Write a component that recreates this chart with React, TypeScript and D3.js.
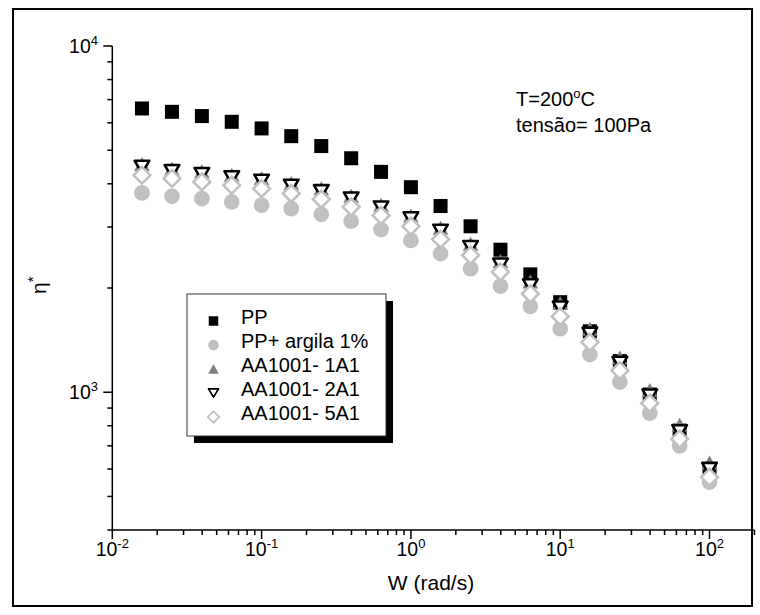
import React from 'react';
import * as d3 from 'd3';

// ---- data ----
const freq = [0.0158, 0.0251, 0.0398, 0.0631, 0.1, 0.158, 0.251, 0.398, 0.631, 1, 1.58, 2.51, 3.98, 6.31, 10, 15.8, 25.1, 39.8, 63.1, 100];
const ppValues = [6600, 6455, 6275, 6040, 5780, 5490, 5140, 4740, 4330, 3910, 3450, 3015, 2580, 2190, 1820, 1500, 1230, 985, 775, 600];
const argilaValues = [3765, 3680, 3625, 3545, 3470, 3390, 3265, 3120, 2950, 2745, 2515, 2275, 2025, 1770, 1525, 1285, 1070, 870, 700, 550];
const aa1A1Values = [4560, 4430, 4345, 4250, 4155, 4020, 3880, 3695, 3480, 3240, 2985, 2685, 2395, 2090, 1810, 1525, 1260, 1015, 805, 627];
const aa2A1Values = [4475, 4350, 4265, 4170, 4080, 3945, 3805, 3625, 3415, 3175, 2925, 2625, 2335, 2035, 1755, 1475, 1215, 978, 771, 600];
const aa5A1Values = [4235, 4145, 4050, 3960, 3875, 3750, 3610, 3430, 3240, 3015, 2765, 2485, 2225, 1925, 1655, 1395, 1155, 930, 733, 568];

const seriesNames = ['PP', 'PP+ argila 1%', 'AA1001- 1A1', 'AA1001- 2A1', 'AA1001- 5A1'];
const xMajorExps = [-2, -1, 0, 1, 2];
const yMajorExps = [3, 4];
const annotationLines = ['T=200', 'tensão= 100Pa'];

type Kind = 'square' | 'circle' | 'triUp' | 'triDown' | 'diamond';

const series: { name: string; values: number[]; kind: Kind }[] = [
  { name: seriesNames[0], values: ppValues, kind: 'square' },
  { name: seriesNames[1], values: argilaValues, kind: 'circle' },
  { name: seriesNames[2], values: aa1A1Values, kind: 'triUp' },
  { name: seriesNames[3], values: aa2A1Values, kind: 'triDown' },
  { name: seriesNames[4], values: aa5A1Values, kind: 'diamond' },
];

const FONT = 'Liberation Sans, Arial, Helvetica, sans-serif';

function Marker({ kind, cx, cy, s }: { kind: Kind; cx: number; cy: number; s: number }) {
  switch (kind) {
    case 'square':
      return <rect x={cx - s / 2} y={cy - s / 2} width={s} height={s} fill="#000" />;
    case 'circle':
      return <circle cx={cx} cy={cy} r={s * 0.56} fill="#c0c0c0" />;
    case 'triUp': {
      const w = s * 1.12, h = s;
      const p = `M${cx},${cy - h / 2}L${cx + w / 2},${cy + h / 2}L${cx - w / 2},${cy + h / 2}Z`;
      return <path d={p} fill="#808080" />;
    }
    case 'triDown': {
      const w = s * 1.05, h = s * 0.88;
      const p = `M${cx - w / 2},${cy - h / 2}L${cx + w / 2},${cy - h / 2}L${cx},${cy + h / 2}Z`;
      return <path d={p} fill="#fff" stroke="#000" strokeWidth={s * 0.18} strokeLinejoin="round" />;
    }
    case 'diamond': {
      const r = s * 0.6;
      const p = `M${cx},${cy - r}L${cx + r},${cy}L${cx},${cy + r}L${cx - r},${cy}Z`;
      return <path d={p} fill="#fff" stroke="#c0c0c0" strokeWidth={s * 0.18} />;
    }
  }
  return null;
}

export default function App() {
  const W = 760, H = 615;
  const x0 = 112.3, decX = 149.3;
  const x = d3.scaleLog().domain([0.01, 200]).range([x0, x0 + Math.log10(20000) * decX]);
  const y = d3.scaleLog().domain([400, 10000]).range([530, 46]);
  const axisY = 530;

  const xMinor: number[] = [];
  for (let e = -2; e <= 2; e++) for (let k = 2; k <= 9; k++) {
    const v = k * Math.pow(10, e);
    if (v <= 200) xMinor.push(v);
  }
  const yMinor: number[] = [];
  for (let e = 2; e <= 3; e++) for (let k = 2; k <= 9; k++) {
    const v = k * Math.pow(10, e);
    if (v >= 400 && v < 10000) yMinor.push(v);
  }

  const legend = { x: 187, y: 294, w: 199, h: 142 };
  const legendRows = [317, 341, 365, 389, 413];

  return (
    <svg width={W} height={H} style={{ position: 'absolute', left: 0, top: 0, background: '#fff' }} fontFamily={FONT}>
      <rect x={0} y={0} width={W} height={H} fill="#fff" />
      {/* page frame */}
      <rect x={13} y={9} width={739} height={597} fill="none" stroke="#000" strokeWidth={2} />

      {/* data */}
      {series.map((s) => (
        <g key={s.name}>
          {s.values.map((v, i) => (
            <Marker key={i} kind={s.kind} cx={x(freq[i])} cy={y(v)} s={14} />
          ))}
        </g>
      ))}

      {/* axes */}
      <g stroke="#000" strokeWidth={1.5} fill="none">
        <line x1={x0} y1={axisY} x2={x.range()[1]} y2={axisY} />
        <line x1={x0} y1={46} x2={x0} y2={axisY} />
        {xMajorExps.map((e) => (
          <line key={'xM' + e} x1={x(Math.pow(10, e))} x2={x(Math.pow(10, e))} y1={axisY} y2={axisY + 9} />
        ))}
        {xMinor.map((v) => (
          <line key={'xm' + v} x1={x(v)} x2={x(v)} y1={axisY} y2={axisY + 5} />
        ))}
        {yMajorExps.map((e) => (
          <line key={'yM' + e} x1={x0 - 9} x2={x0} y1={y(Math.pow(10, e))} y2={y(Math.pow(10, e))} />
        ))}
        {yMinor.map((v) => (
          <line key={'ym' + v} x1={x0 - 5} x2={x0} y1={y(v)} y2={y(v)} />
        ))}
      </g>

      {/* tick labels */}
      {xMajorExps.map((e) => (
        <text key={'xl' + e} x={x(Math.pow(10, e))} y={556} textAnchor="middle" fontSize={19.5} fill="#000">
          10<tspan dy={-8} fontSize={13}>{String(e)}</tspan>
        </text>
      ))}
      {yMajorExps.map((e) => (
        <text key={'yl' + e} x={98} y={y(Math.pow(10, e)) + 7} textAnchor="end" fontSize={19.5} fill="#000">
          10<tspan dy={-8} fontSize={13}>{String(e)}</tspan>
        </text>
      ))}

      {/* axis titles */}
      <text x={431} y={590} textAnchor="middle" fontSize={21} fill="#000">W (rad/s)</text>
      <text transform="translate(46,294) rotate(-90)" fontSize={21} fill="#000">
        η<tspan dy={-8} fontSize={15}>*</tspan>
      </text>

      {/* annotation */}
      <text x={516} y={106} fontSize={20} fill="#000">
        {annotationLines[0]}<tspan dy={-8} fontSize={13}>o</tspan><tspan dy={8}>C</tspan>
      </text>
      <text x={516} y={132} fontSize={20} fill="#000">{annotationLines[1]}</text>

      {/* legend */}
      <rect x={legend.x + 7} y={legend.y + 7} width={legend.w} height={legend.h} fill="#000" />
      <rect x={legend.x} y={legend.y} width={legend.w} height={legend.h} fill="#fff" stroke="#333" strokeWidth={1} />
      {series.map((s, i) => (
        <g key={'lg' + s.name}>
          <Marker kind={s.kind} cx={213.5} cy={legendRows[i] + 4} s={9.5} />
          <text x={241} y={legendRows[i] + 7} fontSize={20} fill="#000">{s.name}</text>
        </g>
      ))}
    </svg>
  );
}
